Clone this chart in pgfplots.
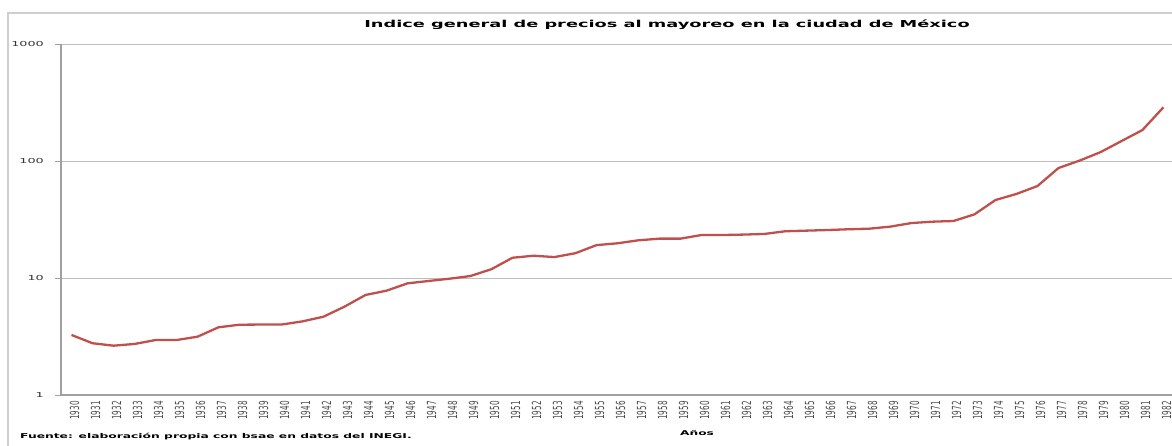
\documentclass[border=0pt]{standalone}
\usepackage{pgfplots}
\pgfplotsset{compat=1.18}
\usepackage{fontspec}
\setmainfont{DejaVu Sans}
\newfontfamily\wide[FakeStretch=1.85]{DejaVu Sans}
\newfontfamily\narrow[FakeStretch=0.58]{DejaVu Sans}
\definecolor{linered}{HTML}{C0504D}
\definecolor{gridgray}{HTML}{BEBEBE}
\definecolor{axgray}{HTML}{A0A0A0}
\definecolor{framegray}{HTML}{CFCFCF}
\begin{document}
\begin{tikzpicture}
\useasboundingbox (0,0) rectangle (1172pt,445pt);
\draw[framegray, line width=1.5pt] (8pt,-5pt) -- (8pt,432pt) -- (1190pt,432pt);
\begin{axis}[
  at={(61pt,50pt)}, anchor=south west,
  scale only axis,
  width=1113pt, height=351pt,
  xmin=-0.5, xmax=52.5,
  ymode=log, ymin=1, ymax=1000,
  axis x line=bottom, axis y line=left,
  axis line style={axgray, line width=1.2pt, -},
  xtick={0,...,52},
  xticklabels={1930,1931,1932,1933,1934,1935,1936,1937,1938,1939,1940,1941,1942,1943,1944,1945,1946,1947,1948,1949,1950,1951,1952,1953,1954,1955,1956,1957,1958,1959,1960,1961,1962,1963,1964,1965,1966,1967,1968,1969,1970,1971,1972,1973,1974,1975,1976,1977,1978,1979,1980,1981,1982},
  minor xtick={-0.5,0.5,...,52.5},
  ytick={1,10,100,1000},
  minor ytick={},
  yticklabels={1,10,100,1000},
  tick align=outside,
  major tick length=6pt, minor tick length=4pt,
  x tick style={draw=none},
  minor x tick style={axgray, line width=0.8pt},
  minor y tick style={draw=none},
  y tick style={axgray, line width=0.8pt},
  ymajorgrids,
  major grid style={gridgray, line width=1pt},
  xticklabel style={font=\narrow\fontsize{12.5}{13}\selectfont, rotate=90, anchor=east, text=black!70, inner sep=0pt, yshift=-3pt},
  yticklabel style={font=\wide\fontsize{6.9}{8}\selectfont, text=black!80, inner sep=0pt, xshift=-11pt},
  clip=false,
]
\addplot[linered, line width=2.3pt, line join=round] coordinates {
(0,3.26) (1,2.77) (2,2.64) (3,2.73) (4,2.95) (5,2.95) (6,3.15) (7,3.79) (8,3.99) (9,4.0)
(10,4.0) (11,4.26) (12,4.67) (13,5.69) (14,7.16) (15,7.79) (16,9.0) (17,9.43) (18,9.86) (19,10.4)
(20,11.9) (21,14.9) (22,15.5) (23,15.1) (24,16.3) (25,19.1) (26,19.8) (27,21.0) (28,21.7) (29,21.7)
(30,23.3) (31,23.3) (32,23.5) (33,23.8) (34,25.1) (35,25.4) (36,25.7) (37,26.1) (38,26.4) (39,27.5)
(40,29.5) (41,30.3) (42,30.7) (43,35.0) (44,46.4) (45,52.3) (46,61.1) (47,87.1) (48,100.7) (49,119)
(50,148) (51,184) (52,288)
};
\end{axis}
\node[anchor=center, inner sep=0pt] at (667pt,420pt) {\wide\bfseries\fontsize{9.6}{11}\selectfont Indice general de precios al mayoreo en la ciudad de México};
\node[anchor=center, inner sep=0pt] at (697pt,12pt) {\wide\bfseries\fontsize{6.6}{8}\selectfont Años};
\node[anchor=west, inner sep=0pt] at (20pt,8pt) {\wide\bfseries\fontsize{6.65}{8}\selectfont Fuente: elaboración propia con bsae en datos del INEGI.};
\end{tikzpicture}
\end{document}
